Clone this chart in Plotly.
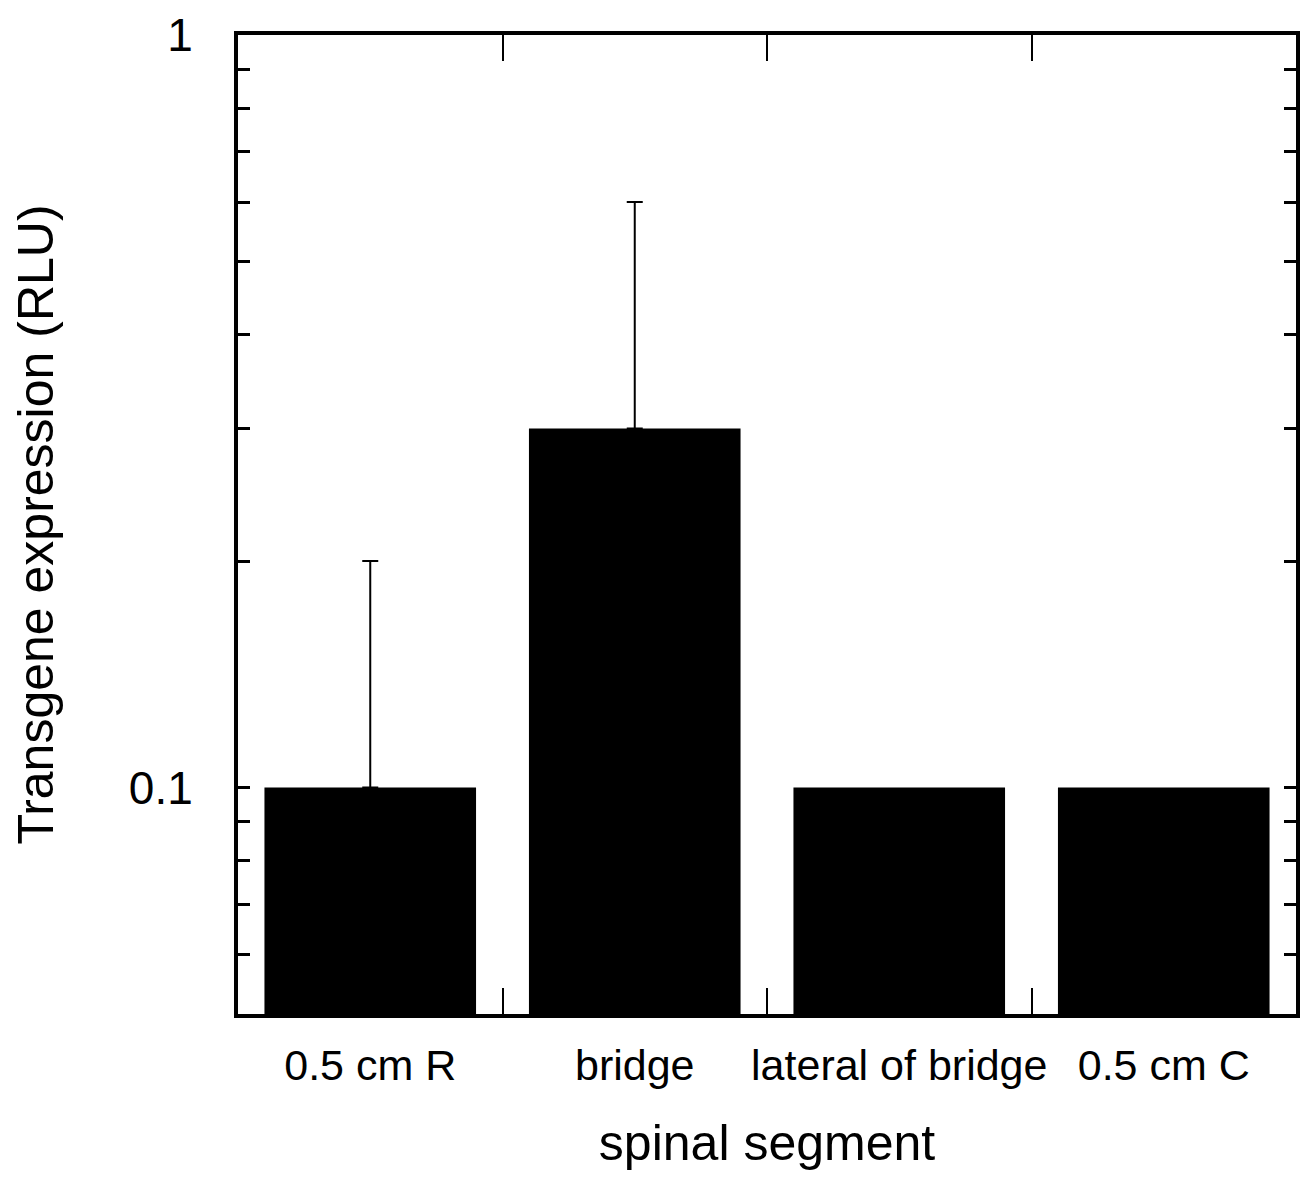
import plotly.graph_objects as go

categories = ["0.5 cm R", "bridge", "lateral of bridge", "0.5 cm C"]
values = [0.1, 0.3, 0.1, 0.1]
err_plus = [0.1, 0.3, None, None]

major_ticks = [0.1, 1]
minor_ticks = [0.06, 0.07, 0.08, 0.09, 0.2, 0.3, 0.4, 0.5, 0.6, 0.7, 0.8, 0.9]

fig = go.Figure()
fig.add_trace(go.Bar(
    x=categories, y=values, width=0.8,
    marker=dict(color="black", line=dict(width=0)),
))

ex = [c for c, e in zip(categories, err_plus) if e is not None]
ey = [v for v, e in zip(values, err_plus) if e is not None]
ee = [e for e in err_plus if e is not None]
fig.add_trace(go.Scatter(
    x=ex, y=ey, mode="markers", marker=dict(size=1, color="rgba(0,0,0,0)"),
    error_y=dict(type="data", symmetric=False, array=ee,
                 arrayminus=[0] * len(ee), color="black", thickness=2, width=8),
    hoverinfo="skip",
))

tickvals = minor_ticks + major_ticks
ticktext = ["" for _ in minor_ticks] + ["0.1", "1"]

font = "Liberation Sans, Arial, Helvetica, sans-serif"
fig.update_layout(
    width=1308, height=1182,
    margin=dict(l=230, r=20, t=27, b=176),
    plot_bgcolor="white", paper_bgcolor="white",
    showlegend=False,
    font=dict(family=font, color="black"),
    xaxis=dict(
        type="category", automargin=False, categoryorder="array", categoryarray=categories,
        showline=True, linecolor="black", linewidth=4, mirror="ticks",
        ticks="inside", tickson="boundaries", ticklen=26, tickwidth=2, tickcolor="black",
        tickfont=dict(size=43, family=font), tickangle=0,
        title=dict(text="spinal segment", font=dict(size=50, family=font), standoff=38),
        showgrid=False, zeroline=False,
        ticklabelstandoff=10,
    ),
    yaxis=dict(
        type="log", range=[-1.30103, 0.0003], automargin=False,
        showline=True, linecolor="black", linewidth=4, mirror="ticks",
        ticks="inside", ticklen=12, tickwidth=3, tickcolor="black",
        tickmode="array", tickvals=tickvals, ticktext=ticktext,
        tickfont=dict(size=46, family=font),
        title=dict(text="Transgene expression (RLU)", font=dict(size=50, family=font), standoff=70),
        showgrid=False, zeroline=False,
        ticklabelstandoff=32,
    ),
)

fig.write_html("out.html")
